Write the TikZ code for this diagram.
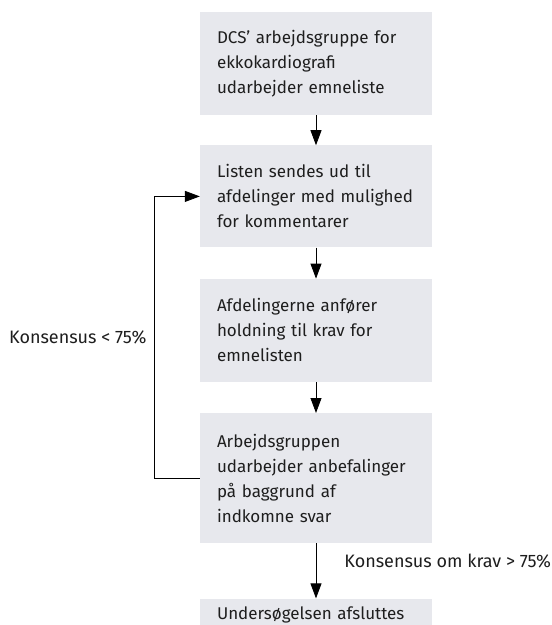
\documentclass[tikz,border=0pt]{standalone}
\usepackage{fontspec}
\setmainfont{Fira Sans}
\usetikzlibrary{positioning,arrows.meta}
\definecolor{boxgrey}{RGB}{231,232,237}
\definecolor{inkgrey}{RGB}{30,30,30}
\begin{document}
\begin{tikzpicture}[x=1pt,y=1pt,
    stage/.style={fill=boxgrey,text=inkgrey,minimum width=232pt,text width=198pt,
      align=left,inner xsep=17pt,inner ysep=0pt,font=\fontsize{17}{25}\selectfont},
    flow/.style={-{Triangle[length=15pt,width=11pt]},line width=0.8pt},
    lbl/.style={text=inkgrey,inner sep=0pt,font=\fontsize{18}{25}\selectfont}]
  \useasboundingbox (0,0) rectangle (552,-625);
  \clip (0,0) rectangle (552,-625);
  \node[stage,minimum height=103pt] (b1) at (316,-63.5)
    {DCS’ arbejdsgruppe for\\ekkokardiografi\\udarbejder emneliste};
  \node[stage,minimum height=102pt,below=30pt of b1] (b2)
    {Listen sendes ud til\\afdelinger med mulighed\\for kommentarer};
  \node[stage,minimum height=103pt,below=31pt of b2] (b3)
    {Afdelingerne anfører\\holdning til krav for\\emnelisten};
  \node[stage,minimum height=130pt,below=31pt of b3] (b4)
    {Arbejdsgruppen\\udarbejder anbefalinger\\på baggrund af\\indkomne svar};
  \node[stage,minimum height=33pt,below=55pt of b4] (b5)
    {Undersøgelsen afsluttes};
  \draw[flow](b1) -- (b2);
  \draw[flow](b2) -- (b3);
  \draw[flow](b3) -- (b4);
  \draw[flow](b4) -- node[lbl,right,xshift=28pt,yshift=10pt] (hilbl) {Konsensus om krav > 75\%} (b5);
  \draw[flow](b4.west) -- ++(-45,0) |- node[lbl,pos=.25,left,xshift=-8pt] (lolbl) {Konsensus < 75\%} (b2.west);
\end{tikzpicture}
\end{document}
